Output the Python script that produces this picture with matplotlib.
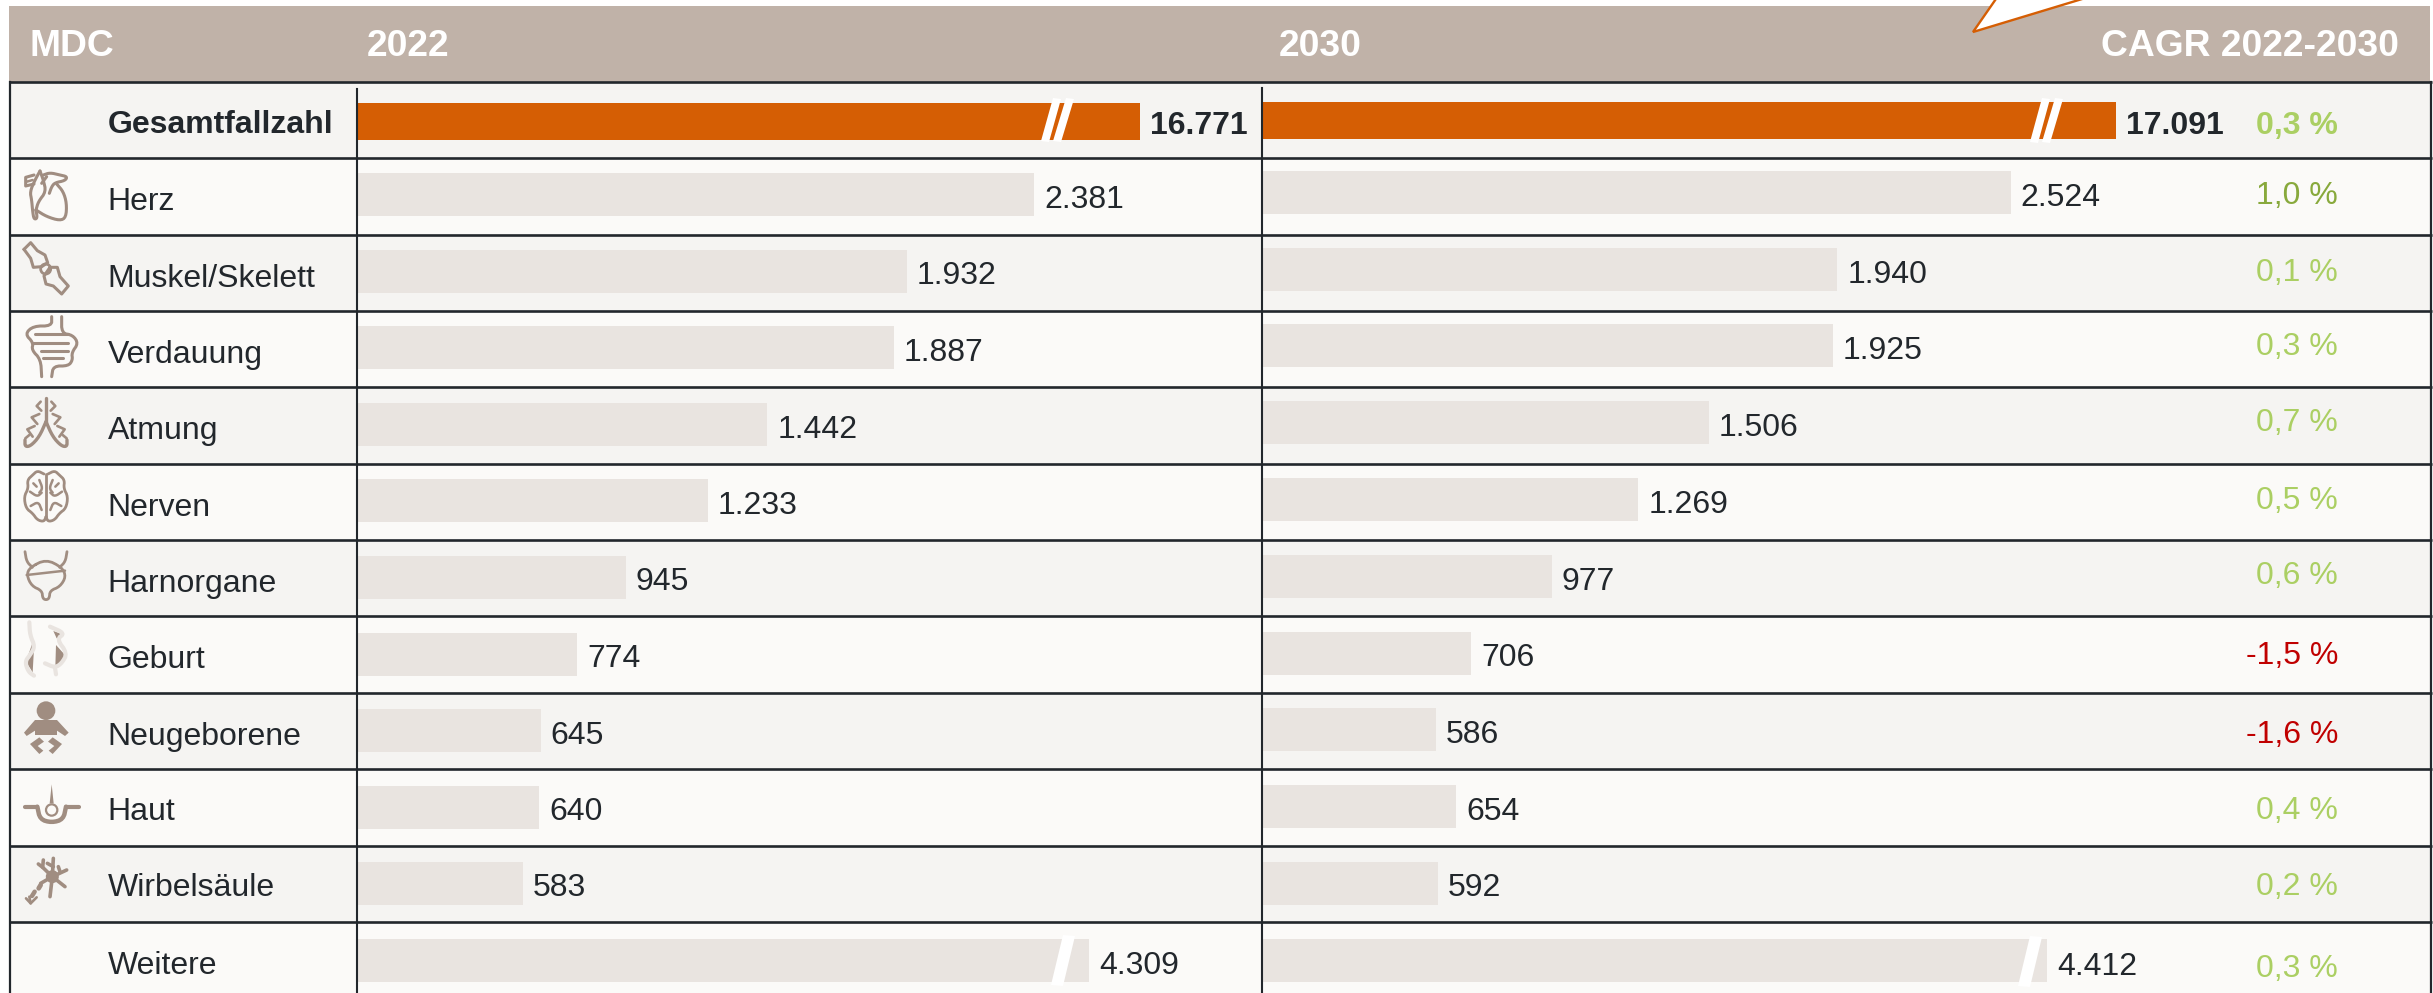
import matplotlib
matplotlib.use('Agg')
import matplotlib.pyplot as plt
from matplotlib.patches import Polygon, Rectangle, Circle, Ellipse

plt.rcParams['font.family'] = ['Liberation Sans', 'DejaVu Sans']

# data
categories = ['Gesamtfallzahl', 'Herz', 'Muskel/Skelett', 'Verdauung', 'Atmung', 'Nerven',
              'Harnorgane', 'Geburt', 'Neugeborene', 'Haut', 'Wirbelsäule', 'Weitere']
values_2022 = [16771, 2381, 1932, 1887, 1442, 1233, 945, 774, 645, 640, 583, 4309]
values_2030 = [17091, 2524, 1940, 1925, 1506, 1269, 977, 706, 586, 654, 592, 4412]
cagr = [0.3, 1.0, 0.1, 0.3, 0.7, 0.5, 0.6, -1.5, -1.6, 0.4, 0.2, 0.3]
headers = ['MDC', '2022', '2030', 'CAGR 2022-2030']
# broken bars are only drawn up to this length (axis units)
shown_2022 = {'Gesamtfallzahl': 2752, 'Weitere': 2573}
shown_2030 = {'Gesamtfallzahl': 2879, 'Weitere': 2647}

W, H = 2433, 993
DARK = '#22272c'
HEAD = '#c0b2a8'
ORANGE = '#d55e04'
BAR = '#e9e4e0'
ICON = '#a08d81'
BG_A = '#f5f4f2'
BG_B = '#fbfaf8'
TOP = 82.0
ROW = 76.35
SCALE_22 = 0.2845
SCALE_30 = 0.2966
X_22 = 357
X_30 = 1262

fig = plt.figure(figsize=(W / 100, H / 100), dpi=100, facecolor='white')


def pixel_axes(rect, zorder):
    a = fig.add_axes(rect, zorder=zorder)
    a.set_ylim(H, 0)
    a.axis('off')
    a.patch.set_alpha(0)
    return a


ax = pixel_axes([0, 0, 1, 1], 1)
ax.set_xlim(0, W)
ax22 = pixel_axes([X_22 / W, 0, 880 / W, 1], 2)
ax30 = pixel_axes([X_30 / W, 0, 1000 / W, 1], 2)
ax22.set_xlim(0, 880 / SCALE_22)
ax30.set_xlim(0, 1000 / SCALE_30)
ov = pixel_axes([0, 0, 1, 1], 3)
ov.set_xlim(0, W)
ov.set_ylim(H, 0)


def num(v):
    return f'{v:,}'.replace(',', '.')


def pct(v):
    return f'{v:.1f} %'.replace('.', ',')


def cagr_color(v):
    if v < 0:
        return '#c00000'
    if v >= 1:
        return '#88a93c'
    return '#abcf63'


# header and row backgrounds
ax.add_patch(Rectangle((9, 6), 2421, TOP - 6, color=HEAD, lw=0))
for i in range(len(categories)):
    ax.add_patch(Rectangle((10, TOP + i * ROW), 2421, ROW, color=BG_A if i % 2 == 0 else BG_B, lw=0))
ov.add_patch(Polygon([(1998, -4), (1973, 32), (2092, -4)], closed=True, fc='white', ec=ORANGE, lw=1.7))
for x, label, ha in [(30, headers[0], 'left'), (367, headers[1], 'left'), (1279, headers[2], 'left'),
                     (2399, headers[3], 'right')]:
    ov.text(x, 46, label, color='white', fontsize=26.8, fontweight='bold', va='center', ha=ha)

# bars, each column has its own value axis
for i, name in enumerate(categories):
    col = ORANGE if i == 0 else BAR
    y22 = 121.5 if i == 0 else 194.5 + 76.6 * (i - 1)
    y30 = 120.5 if i == 0 else 192.4 + 76.77 * (i - 1)
    h = 37 if i == 0 else 43
    ax22.barh(y22, shown_2022.get(name, values_2022[i]), height=h, color=col, lw=0)
    ax30.barh(y30, shown_2030.get(name, values_2030[i]), height=h, color=col, lw=0)


def stripe(xb, xt, yb, yt, w=8):
    ov.add_patch(Polygon([(xb, yb), (xt, yt), (xt + w, yt + 1), (xb + w, yb + 1)], closed=True,
                         color='white', lw=0))


stripe(1041, 1053, 141, 98)
stripe(1053, 1066, 141, 98)
stripe(2030, 2042, 142, 98)
stripe(2042, 2055, 142, 98)
stripe(1051, 1063, 985, 935, w=12)
stripe(2018, 2030, 986, 936, w=12)

# table lines
for i in range(len(categories) + 1):
    ov.plot([10, 2432], [TOP + i * ROW] * 2, color=DARK, lw=1.9, solid_capstyle='butt')
ov.plot([10, 10], [TOP, H], color=DARK, lw=1.6)
ov.plot([2431, 2431], [TOP, H], color=DARK, lw=1.6)
ov.plot([X_22, X_22], [89, H], color=DARK, lw=1.5)
ov.plot([X_30, X_30], [88, H], color=DARK, lw=1.5)

# text baselines were placed by hand in the source, so they drift a little
base_cagr = [134, 204, 281, 355, 431, 509, 584, 664, 743, 819, 895, 977]
for i, name in enumerate(categories):
    weight = 'bold' if i == 0 else 'normal'
    base = TOP + i * ROW + (51 if i in (0, 9, 10) else 52)
    base22 = 134 if i == 0 else 974 if i == 11 else 208 + 76.5 * (i - 1)
    base30 = 134 if i == 0 else 975 if i == 11 else 206 + 76.7 * (i - 1)
    ov.text(108 if i == 0 else 107.5, base, name, fontsize=23, fontweight=weight, color=DARK, va='baseline')
    end22 = X_22 + shown_2022.get(name, values_2022[i]) * SCALE_22
    end30 = X_30 + shown_2030.get(name, values_2030[i]) * SCALE_30
    ov.text(end22 + 10, base22, num(values_2022[i]), fontsize=23, fontweight=weight, color=DARK, va='baseline')
    ov.text(end30 + 10, base30, num(values_2030[i]), fontsize=23, fontweight=weight, color=DARK, va='baseline')
    ov.text(2338, base_cagr[i], pct(cagr[i]), fontsize=23, fontweight=weight, color=cagr_color(cagr[i]),
            va='baseline', ha='right')


def smooth(pts, closed=False, n=2):
    for _ in range(n):
        out = [pts[0]] if not closed else []
        m = len(pts) if closed else len(pts) - 1
        for k in range(m):
            a, b = pts[k], pts[(k + 1) % len(pts)]
            out.append((0.75 * a[0] + 0.25 * b[0], 0.75 * a[1] + 0.25 * b[1]))
            out.append((0.25 * a[0] + 0.75 * b[0], 0.25 * a[1] + 0.75 * b[1]))
        if not closed:
            out.append(pts[-1])
        pts = out
    return pts


def line(pts, ox, oy, lw=2.2, color=ICON, closed=False, soft=True):
    if soft:
        pts = smooth(pts, closed)
    xs = [ox + p[0] / 3 for p in pts]
    ys = [oy + p[1] / 3 for p in pts]
    if closed:
        xs.append(xs[0])
        ys.append(ys[0])
    ov.plot(xs, ys, color=color, lw=lw, solid_capstyle='round', solid_joinstyle='round')


def blob(pts, ox, oy, color=ICON):
    ov.add_patch(Polygon([(ox + p[0] / 3, oy + p[1] / 3) for p in pts], closed=True, color=color, lw=0))


def ring(x, y, ox, oy, r, lw=2.0, fc='none'):
    ov.add_patch(Circle((ox + x / 3, oy + y / 3), r / 3, fc=fc, ec=ICON, lw=lw))


def mirror(pts, cx):
    return [(2 * cx - p[0], p[1]) for p in pts]


def icon_heart():
    o = (10, 160)
    line([(90, 33), (75, 60), (60, 95), (65, 120), (68, 155), (72, 178), (82, 175), (78, 150)], *o)
    line([(78, 150), (110, 170), (150, 182), (168, 172), (170, 130), (160, 95), (140, 72)], *o)
    line([(90, 33), (100, 60), (108, 95), (85, 125), (78, 150)], *o)
    line([(100, 45), (120, 38), (150, 45), (172, 50), (165, 62), (135, 68), (125, 80), (118, 100)], *o)
    line([(95, 70), (110, 50)], *o)
    line([(72, 45), (47, 52), (47, 78), (72, 72)], *o, soft=False)
    line([(50, 65), (68, 60)], *o, lw=1.8)


def icon_joint():
    o = (10, 160)
    line([(42, 268), (62, 248), (82, 272), (105, 285), (113, 308), (95, 320), (70, 322), (62, 295)], *o,
         closed=True, soft=False)
    line([(120, 322), (142, 322), (150, 350), (175, 378), (155, 402), (130, 378), (108, 372), (102, 348)], *o,
         closed=True, soft=False)
    ring(107, 327, *o, 15)


def icon_gut():
    o = (0, 300)
    line([(155, 50), (155, 78), (100, 78), (75, 102), (100, 128), (95, 150), (122, 178), (125, 230)], *o)
    line([(185, 50), (185, 100), (218, 105), (235, 130), (215, 158), (218, 180), (205, 198), (160, 198),
          (155, 230)], *o)
    line([(105, 103), (205, 103)], *o)
    line([(100, 128), (205, 128)], *o)
    line([(122, 152), (205, 152)], *o)
    line([(130, 175), (190, 175)], *o)


def icon_lung():
    o = (0, 300)
    line([(138, 295), (138, 370)], *o, lw=2.4)
    left = [(138, 365), (118, 410), (92, 438), (75, 440), (75, 420)]
    line(left, *o, lw=2.4)
    line(mirror(left, 138), *o, lw=2.4)
    for seg in [[(122, 305), (110, 318), (124, 332)], [(118, 342), (95, 352), (112, 372)],
                [(104, 378), (82, 388), (98, 410)], [(88, 405), (76, 415)]]:
        line(seg, *o, lw=1.9, soft=False)
        line(mirror(seg, 138), *o, lw=1.9, soft=False)


def icon_brain():
    o = (0, 300)
    left = [(132, 522), (112, 512), (98, 525), (82, 540), (85, 565), (72, 590), (78, 625), (98, 640), (112, 660),
            (132, 665), (138, 650)]
    line(left, *o, lw=2.0)
    line(mirror(left, 138), *o, lw=2.0)
    line([(138, 522), (138, 650)], *o, lw=2.0)
    for seg in [[(118, 540), (128, 565), (118, 578)], [(90, 575), (112, 590), (125, 578)],
                [(92, 618), (115, 605), (125, 630)], [(100, 550), (110, 560)]]:
        line(seg, *o, lw=1.8)
        line(mirror(seg, 138), *o, lw=1.8)


def icon_bladder():
    o = (0, 300)
    side = [(75, 755), (80, 785), (97, 802)]
    line(side, *o, lw=2.0)
    line(mirror(side, 138), *o, lw=2.0)
    line([(90, 802), (138, 778), (186, 802), (198, 830), (180, 860), (150, 872), (148, 895), (138, 900),
          (128, 895), (126, 872), (95, 858), (80, 825)], *o, lw=2.0, closed=True)
    line([(80, 825), (195, 812)], *o, lw=1.8)


def icon_birth():
    o = (10, 615)
    pale = '#e9e4e0'
    blob([(68, 82), (72, 100), (68, 172), (48, 140)], *o)
    blob([(130, 48), (162, 60), (140, 70)], *o)
    blob([(138, 90), (165, 120), (148, 150), (136, 155)], *o)
    line([(58, 22), (60, 60), (75, 95), (60, 120), (45, 140), (55, 170), (72, 182)], *o, lw=3.0, color=pale)
    line([(120, 35), (165, 55), (140, 72), (172, 115), (155, 145), (135, 158), (105, 145)], *o, lw=3.0, color=pale)
    line([(135, 158), (138, 178)], *o, lw=3.0, color=pale)


def icon_baby():
    o = (0, 640)
    ov.add_patch(Circle((o[0] + 138 / 3, o[1] + 212 / 3), 28 / 3, color=ICON, lw=0))
    blob([(105, 240), (171, 240), (206, 278), (195, 288), (171, 272), (171, 285), (105, 285), (105, 272),
          (80, 288), (72, 278)], *o)
    leg = [(90, 312), (118, 292), (132, 305), (113, 318), (130, 332), (118, 342)]
    blob(leg, *o)
    blob(mirror(leg, 138), *o)


def icon_skin():
    o = (0, 640)
    line([(75, 500), (112, 500)], *o, lw=3.0, soft=False)
    line([(198, 500), (238, 500)], *o, lw=3.0, soft=False)
    line([(112, 500), (120, 538), (155, 548), (190, 538), (198, 500)], *o, lw=3.2)
    blob([(155, 433), (161, 490), (149, 490)], *o)
    ring(155, 510, *o, 17, lw=1.6, fc=BG_B)


def icon_nerve():
    o = (0, 640)
    c = (157, 710)
    for seg in [[c, (128, 682), (115, 672)], [(128, 682), (130, 660)], [c, (160, 655)], [(160, 680), (142, 670)],
                [c, (200, 690)], [(180, 695), (175, 680)], [c, (195, 740)], [c, (150, 770)], [c, (122, 730)]]:
        line(seg, *o, lw=2.6, soft=False)
    ov.add_patch(Ellipse((o[0] + 157 / 3, o[1] + 710 / 3), 13, 13, color=ICON, lw=0))
    ov.add_patch(Circle((o[0] + 157 / 3, o[1] + 710 / 3), 2.6, fc=BG_A, ec=ICON, lw=1.0))
    line([(122, 735), (116, 745)], *o, lw=3.4, soft=False)
    line([(104, 755), (96, 768)], *o, lw=3.2, soft=False)
    line([(110, 772), (92, 790), (78, 775)], *o, lw=1.9, soft=False)
    line([(92, 790), (88, 770)], *o, lw=1.9, soft=False)


for f in [icon_heart, icon_joint, icon_gut, icon_lung, icon_brain, icon_bladder, icon_birth, icon_baby,
          icon_skin, icon_nerve]:
    f()

fig.savefig('out.png', dpi=100, facecolor='white')
